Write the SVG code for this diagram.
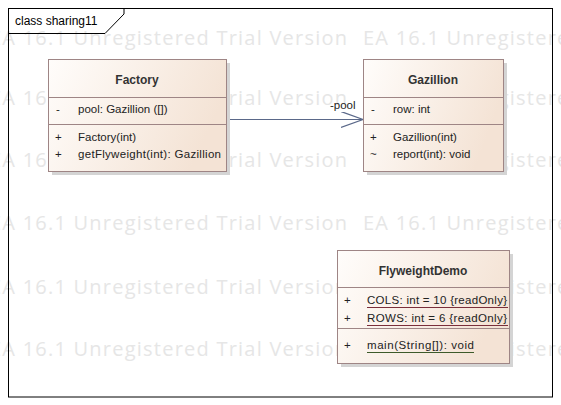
<svg xmlns="http://www.w3.org/2000/svg" width="561" height="405" viewBox="0 0 561 405">
<style>
.wm{font-family:"Open Sans","Noto Sans",sans-serif;font-size:20px;fill:#e6e6e6}
.box{fill:url(#g);stroke:#9e8585;stroke-width:1}
.sh{fill:#d4d4d4}
.div{stroke:#9e8585;stroke-width:1}
.t{font-family:"Liberation Sans","Arial",sans-serif;font-size:11.5px;fill:#222}
.title{font-family:"Liberation Sans","Arial",sans-serif;font-size:12px;font-weight:bold;fill:#333;text-anchor:middle}
.lab{font-family:"Liberation Sans","Arial",sans-serif;font-size:12px;fill:#000}
.conn{stroke:#5a6889;stroke-width:1.2;fill:none}
</style>
<defs>
<linearGradient id="g" x1="0" y1="0" x2="1" y2="0.3">
<stop offset="0" stop-color="#fffdfb"/>
<stop offset="1" stop-color="#f4e3d5"/>
</linearGradient>
<marker id="open" markerWidth="24" markerHeight="18" refX="22" refY="8" orient="auto" markerUnits="userSpaceOnUse">
<path d="M0,0 L22,8 L0,16" fill="none" stroke="#5a6889" stroke-width="1.2"/>
</marker>
</defs>
<rect width="561" height="405" fill="#fff"/>
<g id="watermark">
<text class="wm" x="-10" y="45" textLength="357">EA 16.1 Unregistered Trial Version</text>
<text class="wm" x="363" y="45" textLength="357">EA 16.1 Unregistered Trial Version</text>
<text class="wm" x="-10" y="105" textLength="357">EA 16.1 Unregistered Trial Version</text>
<text class="wm" x="363" y="105" textLength="357">EA 16.1 Unregistered Trial Version</text>
<text class="wm" x="-10" y="167" textLength="357">EA 16.1 Unregistered Trial Version</text>
<text class="wm" x="363" y="167" textLength="357">EA 16.1 Unregistered Trial Version</text>
<text class="wm" x="-10" y="230" textLength="357">EA 16.1 Unregistered Trial Version</text>
<text class="wm" x="363" y="230" textLength="357">EA 16.1 Unregistered Trial Version</text>
<text class="wm" x="-10" y="294" textLength="357">EA 16.1 Unregistered Trial Version</text>
<text class="wm" x="363" y="294" textLength="357">EA 16.1 Unregistered Trial Version</text>
<text class="wm" x="-10" y="356" textLength="357">EA 16.1 Unregistered Trial Version</text>
<text class="wm" x="363" y="356" textLength="357">EA 16.1 Unregistered Trial Version</text>
</g>
<g id="frame">
<rect x="8.5" y="8.5" width="544" height="388.5" fill="none" stroke="#000" stroke-width="1"/>
<path d="M8.5,33.5 H105 L124,14 V8.5" fill="none" stroke="#000" stroke-width="1"/>
<text class="lab" x="15" y="25">class sharing11</text>
</g>
<g id="connectors">
<line class="conn" x1="226" y1="119.5" x2="363" y2="119.5" marker-end="url(#open)"/>
<text class="t" x="330" y="109">-pool</text>
</g>
<g id="Factory">
<rect class="sh" x="52" y="63" width="178" height="112"/>
<rect class="box" x="48.5" y="59.5" width="178" height="112"/>
<line class="div" x1="48.5" y1="97.5" x2="226.5" y2="97.5"/>
<line class="div" x1="48.5" y1="124.5" x2="226.5" y2="124.5"/>
<text class="title" x="137" y="84">Factory</text>
<text class="t" x="56" y="113">-</text>
<text class="t" x="78" y="113">pool: Gazillion ([])</text>
<text class="t" x="55" y="141">+</text>
<text class="t" x="78" y="141">Factory(int)</text>
<text class="t" x="55" y="158">+</text>
<text class="t" x="78" y="158" textLength="143">getFlyweight(int): Gazillion</text>
</g>
<g id="Gazillion">
<rect class="sh" x="367" y="63" width="140" height="112"/>
<rect class="box" x="363.5" y="59.5" width="140" height="112"/>
<line class="div" x1="363.5" y1="97.5" x2="503.5" y2="97.5"/>
<line class="div" x1="363.5" y1="124.5" x2="503.5" y2="124.5"/>
<text class="title" x="433" y="84">Gazillion</text>
<text class="t" x="371" y="113">-</text>
<text class="t" x="393" y="113">row: int</text>
<text class="t" x="370" y="141">+</text>
<text class="t" x="393" y="141">Gazillion(int)</text>
<text class="t" x="370" y="158">~</text>
<text class="t" x="393" y="158">report(int): void</text>
</g>
<g id="FlyweightDemo">
<rect class="sh" x="341" y="254" width="172" height="113"/>
<rect class="box" x="337.5" y="250.5" width="172" height="113"/>
<line class="div" x1="337.5" y1="287.5" x2="509.5" y2="287.5"/>
<line class="div" x1="337.5" y1="328.5" x2="509.5" y2="328.5"/>
<text class="title" x="423" y="275">FlyweightDemo</text>
<text class="t" x="344" y="304">+</text>
<text class="t" x="367" y="304" textLength="140">COLS: int = 10 {readOnly}</text>
<line x1="367" y1="307.5" x2="508" y2="307.5" stroke="#7a2e3a" stroke-width="1"/>
<text class="t" x="344" y="322">+</text>
<text class="t" x="367" y="322" textLength="140">ROWS: int = 6 {readOnly}</text>
<line x1="367" y1="325.5" x2="508" y2="325.5" stroke="#7a2e3a" stroke-width="1"/>
<text class="t" x="344" y="349">+</text>
<text class="t" x="367" y="349" textLength="107">main(String[]): void</text>
<line x1="367" y1="352.5" x2="474" y2="352.5" stroke="#3d5a2a" stroke-width="1"/>
</g>
</svg>
